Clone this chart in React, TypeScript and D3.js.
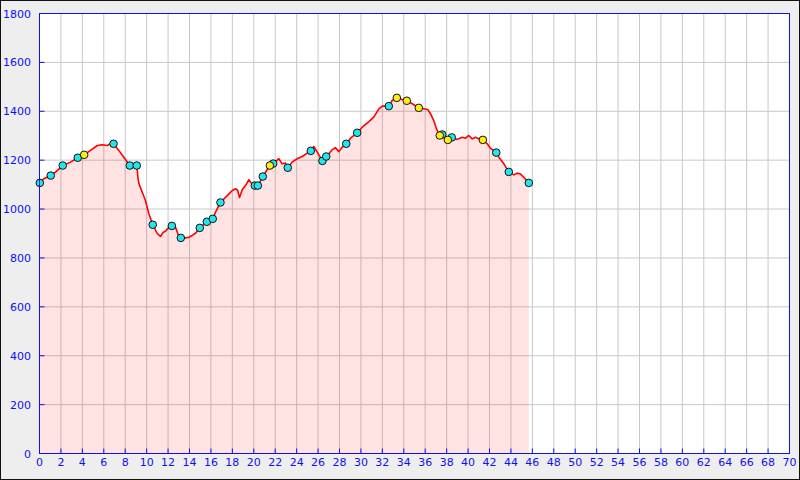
import * as d3 from 'd3';

// profile: distance (km) / elevation (m)
const dist = [
  0.03, 0.4, 1.05, 1.49, 2.17, 2.89, 3.57, 4.17, 4.76, 5.39, 5.85, 6.32, 6.63, 6.91, 7.4, 7.87, 8.43, 9.08,
  9.19, 9.27, 9.59, 9.89, 10.2, 10.57, 10.99, 11.29, 11.55, 11.76, 12.07, 12.35, 12.69, 12.91, 13.19, 13.63,
  13.94, 14.25, 14.56, 14.96, 15.62, 16.17, 16.43, 16.89, 17.52, 17.99, 18.29, 18.48, 18.67, 18.92, 19.23,
  19.54, 19.79, 20.1, 20.38, 20.84, 21.5, 21.81, 22.34, 22.65, 22.96, 23.17, 23.59, 24.05, 24.52, 24.99,
  25.32, 25.6, 25.92, 26.41, 26.76, 27.0, 27.32, 27.63, 27.94, 28.25, 28.63, 29.03, 29.65, 30.12, 30.74,
  31.2, 31.67, 31.99, 32.6, 32.92, 33.35, 33.85, 34.28, 34.79, 35.4, 35.87, 36.24, 36.49, 36.8, 37.05,
  37.36, 37.59, 38.11, 38.48, 38.98, 39.45, 39.76, 40.07, 40.39, 40.69, 41.0, 41.38, 41.79, 42.09, 42.63,
  42.87, 43.34, 43.8, 44.27, 44.59, 44.89, 45.2, 45.67,
];
const elev = [
  1107, 1124, 1137, 1151, 1178, 1192, 1210, 1222, 1240, 1260, 1263, 1260, 1267, 1267, 1240, 1212, 1178, 1178,
  1129, 1105, 1069, 1035, 982, 936, 900, 888, 905, 909, 925, 931, 926, 899, 882, 882,
  885, 892, 901, 923, 948, 960, 987, 1027, 1055, 1076, 1083, 1078, 1047, 1079, 1096,
  1120, 1105, 1096, 1096, 1133, 1178, 1186, 1206, 1185, 1188, 1169, 1192, 1206, 1215, 1229,
  1238, 1256, 1233, 1197, 1215, 1226, 1243, 1251, 1235, 1253, 1267, 1290, 1312, 1335, 1358,
  1376, 1410, 1421, 1421, 1444, 1455, 1448, 1443, 1431, 1414, 1410, 1407, 1390, 1362, 1328,
  1301, 1305, 1283, 1293, 1285, 1294, 1290, 1301, 1287, 1294, 1287, 1283, 1267, 1249, 1231,
  1212, 1185, 1152, 1140, 1147, 1143, 1130, 1107,
];

// waypoints
const cyanDist = [
  0.03, 1.05, 2.17, 3.57, 6.91, 8.43, 9.08, 10.57, 12.35, 13.19, 14.96, 15.62, 16.17, 16.89, 20.1, 20.38,
  20.84, 21.81, 23.17, 25.32, 26.41, 26.76, 28.63, 29.65, 32.6, 37.59, 38.48, 42.63, 43.8, 45.67,
];
const cyanElev = [
  1107, 1137, 1178, 1210, 1267, 1178, 1178, 936, 931, 882, 923, 948, 960, 1027, 1096, 1096,
  1133, 1186, 1169, 1238, 1197, 1215, 1267, 1312, 1421, 1305, 1293, 1231, 1152, 1107,
];
const yellowDist = [4.17, 21.5, 33.35, 34.28, 35.4, 37.36, 38.11, 41.38];
const yellowElev = [1222, 1178, 1455, 1443, 1414, 1301, 1283, 1283];

const xTicks = d3.range(0, 71, 2);
const yTicks = d3.range(0, 1801, 200);

const W = 800;
const H = 480;
const left = 39;
const right = 789;
const top = 13;
const bottom = 453;

export default function App() {
  const x = d3.scaleLinear().domain([0, 70]).range([left + 0.5, right + 0.5]);
  const y = d3.scaleLinear().domain([0, 1800]).range([bottom + 0.5, top + 0.5]);
  const pts = dist.map((d, i) => [d, elev[i]] as [number, number]);
  const line = d3.line<[number, number]>().x((d) => x(d[0])).y((d) => y(d[1]));
  const area = d3
    .area<[number, number]>()
    .x((d) => x(d[0]))
    .y0(y(0))
    .y1((d) => y(d[1]));
  const blue = '#1010ee';

  return (
    <svg width={W} height={H} style={{ position: 'fixed', left: 0, top: 0 }} fontFamily="DejaVu Sans" fontSize={11}>
      <rect x={0.5} y={0.5} width={799} height={479} fill="#eeeeee" stroke="#111" />
      <rect x={left + 0.5} y={top + 0.5} width={right - left} height={bottom - top} fill="#fff" />
      {xTicks.map((t) => (
        <line key={'gx' + t} x1={x(t)} x2={x(t)} y1={y(0)} y2={y(1800)} stroke="#c8c8c8" />
      ))}
      {yTicks.map((t) => (
        <line key={'gy' + t} x1={x(0)} x2={x(70)} y1={y(t)} y2={y(t)} stroke="#c8c8c8" />
      ))}
      <path d={area(pts) ?? ''} fill="#ff0000" fillOpacity={0.11} />
      <path d={line(pts) ?? ''} fill="none" stroke="#ff0000" strokeWidth={1.6} strokeLinejoin="round" />
      {cyanDist.map((d, i) => (
        <circle key={'c' + i} cx={x(d)} cy={y(cyanElev[i])} r={3.8} fill="#22e5ee" stroke="#111" strokeWidth={1} />
      ))}
      {yellowDist.map((d, i) => (
        <circle key={'y' + i} cx={x(d)} cy={y(yellowElev[i])} r={3.8} fill="#ffee11" stroke="#111" strokeWidth={1} />
      ))}
      <rect x={left + 0.5} y={top + 0.5} width={right - left} height={bottom - top} fill="none" stroke={blue} />
      {xTicks.map((t) => (
        <g key={'tx' + t}>
          <line x1={x(t)} x2={x(t)} y1={y(0)} y2={y(0) - 5} stroke={blue} />
          <text x={x(t)} y={466} textAnchor="middle" fill={blue}>
            {t}
          </text>
        </g>
      ))}
      {yTicks.map((t) => (
        <g key={'ty' + t}>
          <line x1={x(0)} x2={x(0) + 5} y1={y(t)} y2={y(t)} stroke={blue} />
          <text x={31} y={y(t) + 4} textAnchor="end" fill={blue}>
            {t}
          </text>
        </g>
      ))}
    </svg>
  );
}
